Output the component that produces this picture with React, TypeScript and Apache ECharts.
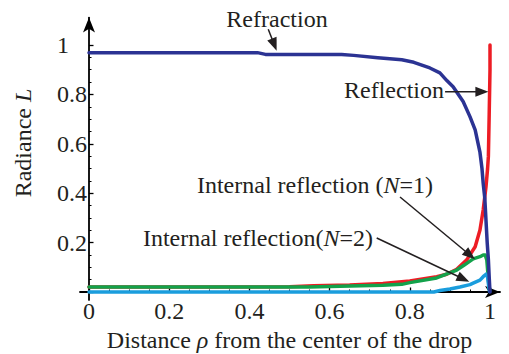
import { useEffect, useRef } from 'react';
import * as echarts from 'echarts';

// Radiance profiles across the drop: [distance ρ, radiance L]
const refraction: [number, number][] = [
  [0, 0.969], [0.42, 0.969], [0.44, 0.962], [0.63, 0.962], [0.66, 0.958],
  [0.72, 0.948], [0.78, 0.94], [0.81, 0.93], [0.85, 0.907], [0.875, 0.887],
  [0.893, 0.855], [0.908, 0.831], [0.933, 0.771], [0.95, 0.71], [0.963, 0.656],
  [0.975, 0.565], [0.98, 0.5], [0.983, 0.44], [0.987, 0.38], [0.99, 0.29],
  [0.993, 0.2], [0.996, 0.13], [0.998, 0.06], [1.0, 0.0],
];

const reflection: [number, number][] = [
  [0, 0.02], [0.3, 0.02], [0.5, 0.021], [0.56, 0.025], [0.65, 0.028],
  [0.733, 0.034], [0.8, 0.045], [0.867, 0.062], [0.892, 0.072], [0.917, 0.092],
  [0.942, 0.13], [0.963, 0.183], [0.975, 0.251], [0.983, 0.332], [0.99, 0.426],
  [0.994, 0.5], [0.996, 0.55], [0.998, 0.72], [1.0, 0.9], [1.0, 1.0],
];

const internalN1: [number, number][] = [
  [0, 0.02], [0.55, 0.02], [0.6, 0.022], [0.733, 0.027], [0.78, 0.031], [0.8, 0.038],
  [0.867, 0.057], [0.917, 0.089], [0.935, 0.108], [0.958, 0.134], [0.975, 0.143],
  [0.983, 0.15], [0.988, 0.15], [0.992, 0.13], [0.996, 0.05], [0.999, 0.005],
];

const internalN2: [number, number][] = [
  [0, 0], [0.86, 0], [0.875, 0.006], [0.9, 0.012], [0.925, 0.02],
  [0.95, 0.03], [0.958, 0.036], [0.975, 0.048], [0.983, 0.062], [0.99, 0.072],
  [0.994, 0.06], [0.997, 0.02], [0.999, 0.002],
];

const xTickValues = [0, 0.2, 0.4, 0.6, 0.8, 1];
const yTickValues = [0.2, 0.4, 0.6, 0.8, 1];

// Callouts, anchored in data space: label anchor, arrow tail, arrow tip
const callouts = [
  { text: 'Refraction', align: 'center', at: [0.4688, 1.105], tail: [0.447, 1.064], tip: [0.468, 0.977] },
  { text: 'Reflection', align: 'right', at: [0.8853, 0.8178], tail: [0.888, 0.811], tip: [0.996, 0.811] },
  { text: 'Internal reflection ({i|N}=1)', align: 'right', at: [0.8579, 0.4332], tail: [0.7756, 0.3846], tip: [0.9626, 0.1324] },
  { text: 'Internal reflection({i|N}=2)', align: 'right', at: [0.7082, 0.2186], tail: [0.7175, 0.2186], tip: [0.9484, 0.0417] },
];

const FONT = "'Liberation Serif', 'Times New Roman', Times, serif";
const FONT_SIZE = 24;
const INK = '#231f20';

// Unit box of the plot (ρ 0..1, L 0..1) in pixels
const PLOT = { left: 89, top: 45, width: 401, height: 247 };
// Drawn extent of the arrowed axis lines
const AXIS_EXTENT = { xMin: -0.0224, xMax: 1.025, yMin: -0.032, yMax: 1.111 };

const italic = { fontStyle: 'italic', fontFamily: FONT, fontSize: FONT_SIZE, color: INK, fill: INK };

const isTick = (list: number[], v: number) => list.some((t) => Math.abs(t - v) < 1e-6);
const fmt = (v: number) => String(+v.toFixed(1));

export default function App() {
  const ref = useRef<HTMLDivElement>(null);

  useEffect(() => {
    document.body.style.margin = '0';
    if (!ref.current) return;
    const chart = echarts.init(ref.current, undefined, { renderer: 'svg' });

    const axisGrid = {
      left: PLOT.left + AXIS_EXTENT.xMin * PLOT.width,
      width: (AXIS_EXTENT.xMax - AXIS_EXTENT.xMin) * PLOT.width,
      top: PLOT.top + (1 - AXIS_EXTENT.yMax) * PLOT.height,
      height: (AXIS_EXTENT.yMax - AXIS_EXTENT.yMin) * PLOT.height,
      containLabel: false,
      outerBoundsMode: 'none',
    };
    const plotGrid = {
      left: PLOT.left,
      top: PLOT.top,
      width: PLOT.width,
      height: PLOT.height,
      containLabel: false,
      outerBoundsMode: 'none',
    };

    const arrowLine = {
      show: true,
      onZero: true,
      symbol: ['none', 'arrow'],
      symbolSize: [9, 15],
      lineStyle: { color: '#000', width: 1.8 },
    };
    const tickStyle = { show: true, inside: true, length: 4.5, lineStyle: { color: '#000', width: 1.3 } };
    const minorStyle = { show: true, splitNumber: 4, length: 2.5, lineStyle: { color: '#000', width: 1 } };
    const labelFont = { fontFamily: FONT, fontSize: FONT_SIZE, color: INK };

    const lineSeries = (name: string, data: [number, number][], color: string, z: number) => ({
      name,
      type: 'line',
      xAxisIndex: 1,
      yAxisIndex: 1,
      data,
      symbol: 'none',
      showSymbol: false,
      clip: false,
      silent: true,
      z,
      lineStyle: { color, width: 3.5, join: 'round', cap: 'round' },
      itemStyle: { color },
    });

    chart.setOption({
      animation: false,
      backgroundColor: '#ffffff',
      textStyle: { fontFamily: FONT },
      grid: [axisGrid, plotGrid],
      xAxis: [
        {
          type: 'value', gridIndex: 0, min: AXIS_EXTENT.xMin, max: AXIS_EXTENT.xMax,
          axisLine: arrowLine, axisTick: { show: false }, axisLabel: { show: false }, splitLine: { show: false },
        },
        {
          type: 'value', gridIndex: 1, min: 0, max: 1, interval: 0.2,
          axisLine: { show: false },
          axisTick: tickStyle,
          minorTick: minorStyle,
          splitLine: { show: false },
          axisLabel: {
            ...labelFont,
            margin: 7,
            formatter: (v: number) => (isTick(xTickValues, v) ? fmt(v) : ''),
          },
          name: 'Distance {i|ρ} from the center of the drop',
          nameLocation: 'middle',
          nameGap: 36,
          nameTextStyle: { ...labelFont, rich: { i: italic } },
        },
      ],
      yAxis: [
        {
          type: 'value', gridIndex: 0, min: AXIS_EXTENT.yMin, max: AXIS_EXTENT.yMax,
          axisLine: arrowLine, axisTick: { show: false }, axisLabel: { show: false }, splitLine: { show: false },
        },
        {
          type: 'value', gridIndex: 1, min: 0, max: 1, interval: 0.2,
          axisLine: { show: false },
          axisTick: tickStyle,
          minorTick: minorStyle,
          splitLine: { show: false },
          axisLabel: {
            ...labelFont,
            align: 'left',
            margin: 32,
            formatter: (v: number) => (isTick(yTickValues, v) ? fmt(v) : ''),
          },
        },
      ],
      series: [
        lineSeries('Reflection', reflection, '#ed1c24', 2),
        lineSeries('Internal reflection (N=1)', internalN1, '#13a24b', 3),
        lineSeries('Internal reflection (N=2)', internalN2, '#1a9ddd', 4),
        lineSeries('Refraction', refraction, '#2b3393', 5),
      ],
    });

    const toPx = (p: number[]) => chart.convertToPixel({ gridIndex: 1 }, p) as number[];
    const graphics: any[] = [
      {
        type: 'text',
        x: 23,
        y: 143,
        rotation: Math.PI / 2,
        style: {
          text: 'Radiance {i|L}',
          rich: { i: italic },
          fill: INK,
          fontFamily: FONT,
          fontSize: FONT_SIZE,
          align: 'center',
          verticalAlign: 'middle',
        },
      },
    ];
    const headLen = 13;
    const headHalf = 5;
    callouts.forEach((c) => {
      const at = toPx(c.at);
      const tail = toPx(c.tail);
      const tip = toPx(c.tip);
      const dx = tip[0] - tail[0];
      const dy = tip[1] - tail[1];
      const len = Math.hypot(dx, dy);
      const ux = dx / len;
      const uy = dy / len;
      const bx = tip[0] - ux * headLen;
      const by = tip[1] - uy * headLen;
      graphics.push(
        {
          type: 'text',
          x: at[0],
          y: at[1],
          z: 20,
          style: {
            text: c.text,
            rich: { i: italic },
            fill: INK,
            fontFamily: FONT,
            fontSize: FONT_SIZE,
            align: c.align,
            verticalAlign: 'middle',
          },
        },
        {
          type: 'line',
          z: 20,
          shape: { x1: tail[0], y1: tail[1], x2: bx + ux * 2, y2: by + uy * 2 },
          style: { stroke: INK, lineWidth: 1.5 },
        },
        {
          type: 'polygon',
          z: 20,
          shape: {
            points: [
              [tip[0], tip[1]],
              [bx - uy * headHalf, by + ux * headHalf],
              [bx + uy * headHalf, by - ux * headHalf],
            ],
          },
          style: { fill: INK },
        },
      );
    });
    chart.setOption({ graphic: graphics });

    return () => chart.dispose();
  }, []);

  return (
    <div
      ref={ref}
      style={{ position: 'absolute', left: 0, top: 0, width: 509, height: 354, background: '#fff' }}
    />
  );
}
